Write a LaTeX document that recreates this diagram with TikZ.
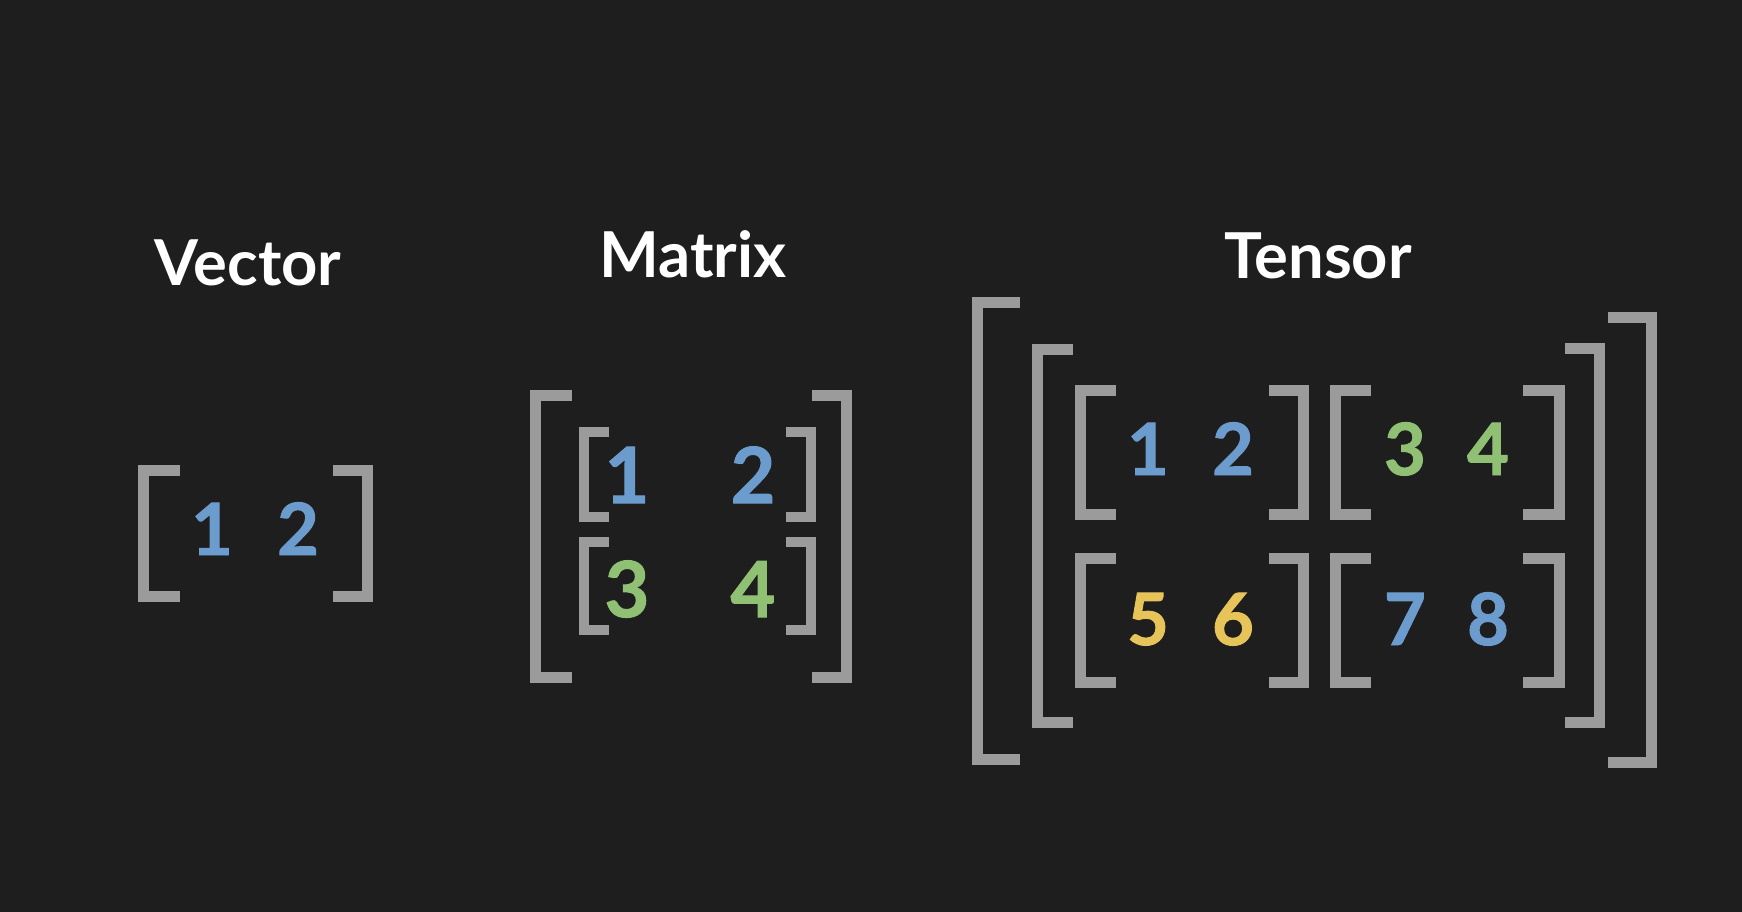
\documentclass[tikz,border=0pt]{standalone}
\usepackage{fontspec}
\setmainfont{Lato}
\newfontfamily\numfont{Lato}[BoldFeatures={FakeBold=1.3}]
\usetikzlibrary{calc}
\definecolor{bgdark}{HTML}{1E1E1E}
\definecolor{brkgray}{HTML}{9B9B9B}
\definecolor{numblue}{HTML}{6C9BCD}
\definecolor{numgreen}{HTML}{8FC073}
\definecolor{numyellow}{HTML}{E6C45A}
% (stroke x : top : bottom : serif end)
\def\leftbrak[#1](#2:#3:#4:#5){\draw[#1] (#5,#3) -- (#2,#3) -- (#2,#4) -- (#5,#4);}
\def\rightbrak[#1](#2:#3:#4:#5){\draw[#1] (#5,#3) -- (#2,#3) -- (#2,#4) -- (#5,#4);}

\begin{document}
\begin{tikzpicture}[x=0.01cm, y=-0.01cm,
	brk/.style={draw=brkgray, line width=3.1pt},
	title/.style={text=white, anchor=base, font=\fontsize{18}{20}\selectfont\bfseries, inner sep=0pt},
	num/.style={anchor=base, inner sep=0pt, font=\numfont\fontsize{20.5}{22}\selectfont\bfseries}]
			%%%%% START %%%%%
			\fill[bgdark] (0, 0) rectangle (1742, 912);
			\useasboundingbox (0, 0) rectangle (1742, 912);
			
			% vector
			\node[title] (vec) at (248, 285) {Vector};
			\leftbrak[brk](143.5:470.5:596.5:180);
			\rightbrak[brk](367.5:470.5:596.5:333);
			\node[num, text=numblue] (v1) at (212, 555) {1};
			\node[num, text=numblue] (v2) at (298, 555) {2};
			
			% matrix
			\node[title] (mat) at (693, 277) {Matrix};
			\leftbrak[brk](535.5:395.5:677.5:572);
			\rightbrak[brk](846.5:395.5:677.5:812);
			\leftbrak[brk, line width=2.8pt](584:432:517:609);
			\rightbrak[brk, line width=2.8pt](811:432:517:786);
			\leftbrak[brk, line width=2.8pt](584:542:630:609);
			\rightbrak[brk, line width=2.8pt](811:542:630:786);
			\node[num, text=numblue, font=\numfont\fontsize{22}{24}\selectfont\bfseries] (m1) at (627, 503) {1};
			\node[num, text=numblue, font=\numfont\fontsize{22}{24}\selectfont\bfseries] (m2) at (753, 503) {2};
			\node[num, text=numgreen, font=\numfont\fontsize{22}{24}\selectfont\bfseries] (m3) at (627, 617) {3};
			\node[num, text=numgreen, font=\numfont\fontsize{22}{24}\selectfont\bfseries] (m4) at (753, 617) {4};
			
			% tensor
			\node[title] (ten) at (1318, 278) {Tensor};
			\leftbrak[brk](977.5:302.5:759.5:1020);
			\rightbrak[brk](1651.5:317.5:762.5:1608);
			\leftbrak[brk](1037.5:349.5:722.5:1073);
			\rightbrak[brk](1599.5:348.5:722.5:1565);
			
			\leftbrak[brk](1080.5:390.5:514.5:1116);
			\rightbrak[brk](1303.5:390.5:514.5:1269);
			\leftbrak[brk](1335.5:390.5:514.5:1371);
			\rightbrak[brk](1559.5:390.5:514.5:1523);
			
			\leftbrak[brk](1080.5:558.5:682.5:1116);
			\rightbrak[brk](1303.5:558.5:682.5:1269);
			\leftbrak[brk](1335.5:558.5:682.5:1371);
			\rightbrak[brk](1559.5:558.5:682.5:1523);
			
			\node[num, text=numblue] (t1) at (1148, 475) {1};
			\node[num, text=numblue] (t2) at (1233, 475) {2};
			\node[num, text=numgreen] (t3) at (1405, 475) {3};
			\node[num, text=numgreen] (t4) at (1488, 475) {4};
			\node[num, text=numyellow] (t5) at (1148, 645) {5};
			\node[num, text=numyellow] (t6) at (1233, 645) {6};
			\node[num, text=numblue] (t7) at (1405, 645) {7};
			\node[num, text=numblue] (t8) at (1488, 645) {8};
			%%%%% END %%%%%
		\end{tikzpicture}
\end{document}
